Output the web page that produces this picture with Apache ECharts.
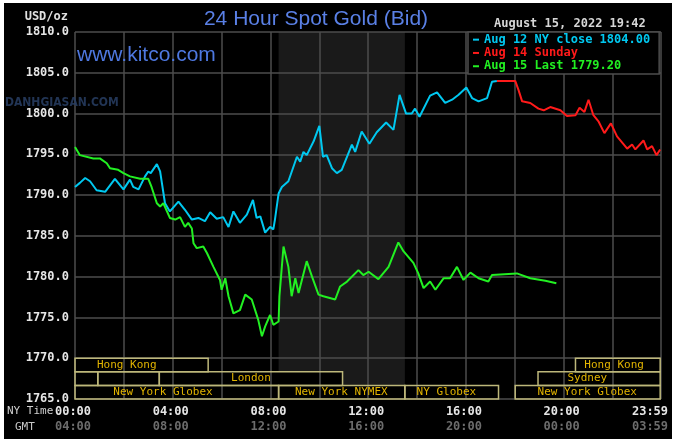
<!DOCTYPE html>
<html><head><meta charset="utf-8">
<script src="https://cdn.jsdelivr.net/npm/echarts@6/dist/echarts.min.js"></script>
<style>
html,body{margin:0;padding:0;background:#fff;width:675px;height:443px;overflow:hidden}
#c{position:absolute;left:4px;top:3px;width:668px;height:436px;background:#000}
</style>
</head><body><div id="c"></div>
<script>
// ---------------- data ----------------
const seriesNames = ['Aug 12 NY close 1804.00', 'Aug 14 Sunday', 'Aug 15 Last 1779.20'];
const seriesColors = ['#00c8f0', '#ff1a1a', '#22f022'];

// minutes since 00:00 NY time
const aug12Minutes = [0,12,25,37,53,74,98,119,135,143,156,172,180,186,201,209,221,233,254,270,287,303,319,332,348,364,377,389,405,422,437,446,455,467,479,487,491,500,508,524,545,553,561,569,586,600,609,618,631,643,655,680,688,704,723,741,764,782,797,813,827,835,846,872,889,909,926,942,961,975,991,1012,1024,1036];
const aug12Values  = [1791.0,1791.5,1792.1,1791.7,1790.6,1790.4,1792.0,1790.7,1791.9,1791.0,1790.7,1792.3,1792.9,1792.7,1793.8,1792.9,1789.0,1788.0,1789.2,1788.2,1787.0,1787.2,1786.8,1787.9,1787.1,1787.3,1786.1,1788.0,1786.6,1787.6,1789.4,1787.2,1787.4,1785.4,1786.1,1785.8,1787.0,1790.2,1791.0,1791.7,1794.7,1794.1,1795.3,1794.9,1796.6,1798.5,1794.7,1794.9,1793.3,1792.7,1793.1,1796.2,1795.3,1797.8,1796.3,1797.7,1798.9,1798.0,1802.3,1800.0,1800.0,1800.6,1799.6,1802.2,1802.6,1801.3,1801.7,1802.3,1803.2,1801.9,1801.5,1801.9,1803.9,1804.0];

const aug14Minutes = [1036,1081,1089,1098,1118,1138,1151,1167,1192,1208,1229,1239,1251,1261,1273,1286,1300,1316,1331,1356,1368,1376,1396,1405,1417,1428,1437];
const aug14Values  = [1804.0,1804.0,1802.9,1801.5,1801.3,1800.6,1800.4,1800.8,1800.4,1799.7,1799.8,1800.7,1800.2,1801.7,1799.8,1799.0,1797.6,1798.8,1797.2,1795.7,1796.2,1795.6,1796.7,1795.6,1796.0,1794.9,1795.6];

const aug15Minutes = [0,12,45,61,78,86,106,119,135,160,180,188,201,209,217,233,246,258,270,278,287,291,299,315,324,340,356,360,369,377,389,405,418,434,450,459,467,479,487,500,502,512,524,532,541,549,569,582,598,610,639,651,668,696,708,721,745,770,794,807,831,843,856,872,885,905,921,938,954,971,991,1015,1024,1085,1118,1155,1182];
const aug15Values  = [1795.9,1794.9,1794.5,1794.5,1793.9,1793.3,1793.1,1792.7,1792.3,1792.0,1792.0,1791.0,1789.0,1788.6,1789.0,1787.2,1787.0,1787.3,1786.1,1786.6,1785.9,1784.1,1783.5,1783.7,1782.9,1781.2,1779.6,1778.4,1779.8,1777.6,1775.5,1775.9,1777.8,1777.2,1774.7,1772.7,1773.9,1775.3,1774.1,1774.5,1777.6,1783.7,1781.2,1777.6,1779.8,1778.0,1781.9,1780.0,1777.8,1777.6,1777.2,1778.8,1779.4,1780.8,1780.2,1780.6,1779.7,1781.2,1784.2,1783.1,1781.7,1780.4,1778.6,1779.4,1778.4,1779.8,1779.8,1781.2,1779.6,1780.5,1779.8,1779.4,1780.2,1780.4,1779.8,1779.5,1779.2];

// axis
const yMin = 1765, yMax = 1810, yStep = 5;
const xMin = 0, xMax = 1439, xStep = 120, xLabelStep = 240, gmtOffsetMin = 240;

// COMEX shaded session (minutes)
const shadeStart = 500, shadeEnd = 810;

// trading session bars (minutes), row 0 = top
const sessionNames = ['Hong Kong', 'Hong Kong', '', '', 'London', 'Sydney', 'New York Globex', 'New York NYMEX', 'NY Globex', 'New York Globex'];
const sessionStart = [0, 1229, 0, 56, 207, 1137, 0, 500, 810, 1081];
const sessionEnd   = [327, 1437, 56, 207, 657, 1437, 500, 810, 1040, 1437];
const sessionRow   = [0, 0, 1, 1, 1, 1, 2, 2, 2, 2];
const sessionLabelAt = [127, 1324, 0, 0, 432, 1258, 216, 654, 912, 1258];

// ---------------- chart ----------------
const MONO = '"DejaVu Sans Mono", "Liberation Mono", monospace';
const pad = n => String(n).padStart(2, '0');
const fmt = m => pad(Math.floor(m / 60)) + ':' + pad(m % 60);
const zip = (a, b) => a.map((v, i) => [v, b[i]]);
const ROW_TOP = 1770, ROW_H = 5 / 3;

const chart = echarts.init(document.getElementById('c'), null, {renderer: 'canvas'});

const sessionData = sessionStart.map((s, i) => [s, sessionEnd[i], sessionRow[i], sessionLabelAt[i]]);

function sessionRect(api) {
  const row = api.value(2);
  const top = ROW_TOP - row * ROW_H, bot = top - ROW_H;
  const p0 = api.coord([api.value(0), top]);
  const p1 = api.coord([api.value(1), bot]);
  return {x: p0[0], y: p0[1], width: p1[0] - p0[0], height: p1[1] - p0[1], mid: (top + bot) / 2};
}

const labA = {fontFamily: MONO, fontWeight: 'bold', fontSize: 12, color: '#e6e6e6', lineHeight: 15};
const labB = {fontFamily: MONO, fontWeight: 'bold', fontSize: 12, color: '#6c6c6c', lineHeight: 15};

const option = {
  backgroundColor: '#000',
  animation: false,
  grid: {left: 71, right: 11, top: 29, bottom: 40, containLabel: false, outerBoundsMode: 'none'},
  xAxis: {
    type: 'value', min: xMin, max: xMax, interval: xStep,
    axisLine: {show: false}, axisTick: {show: false},
    splitLine: {show: true, lineStyle: {color: '#4d4d4d', width: 1.5}},
    axisLabel: {
      showMinLabel: true, showMaxLabel: true, margin: 5,
      formatter: v => {
        if (v === xMax) return '{c|' + fmt(v) + '}\n{d|' + fmt((v + gmtOffsetMin) % 1440) + '}';
        if (v % xLabelStep === 0) return '{a|' + fmt(v) + '}\n{b|' + fmt((v + gmtOffsetMin) % 1440) + '}';
        return '';
      },
      rich: {
        a: Object.assign({padding: [0, 4, 0, 0]}, labA),
        b: Object.assign({padding: [0, 4, 0, 0]}, labB),
        c: Object.assign({padding: [0, 22, 0, 0]}, labA),
        d: Object.assign({padding: [0, 22, 0, 0]}, labB)
      }
    }
  },
  yAxis: {
    type: 'value', min: yMin, max: yMax, interval: yStep,
    axisLine: {show: false}, axisTick: {show: false},
    splitLine: {show: true, lineStyle: {color: '#4d4d4d', width: 1.5}},
    axisLabel: {
      formatter: v => v.toFixed(1), margin: 6,
      fontFamily: MONO, fontWeight: 'bold', fontSize: 12, color: '#e6e6e6'
    }
  },
  legend: {
    left: 464, top: 29, orient: 'vertical', icon: 'rect',
    itemWidth: 6, itemHeight: 2, itemGap: 0, padding: [1, 9, 1, 5],
    backgroundColor: '#000', borderColor: '#4d4d4d', borderWidth: 1.5,
    selectedMode: false,
    textStyle: {fontFamily: MONO, fontWeight: 'bold', fontSize: 12, lineHeight: 13.3},
    data: seriesNames.map((n, i) => ({name: n, textStyle: {color: seriesColors[i]}}))
  },
  graphic: [
    {type: 'text', x: 312, y: 16.5, z: 10, style: {text: '24 Hour Spot Gold (Bid)', font: 'normal 21px "Liberation Sans", Arial, sans-serif', fill: '#5a80e6', align: 'center', verticalAlign: 'middle'}},
    {type: 'text', x: 73, y: 52, z: 10, style: {text: 'www.kitco.com', font: 'normal 21px "Liberation Sans", Arial, sans-serif', fill: '#4e78e0', align: 'left', verticalAlign: 'middle'}},
    {type: 'text', x: 490, y: 21, z: 10, style: {text: 'August 15, 2022 19:42', font: 'bold 12px ' + MONO, fill: '#d6d6d6', align: 'left', verticalAlign: 'middle'}},
    {type: 'text', x: 64, y: 14, z: 10, style: {text: 'USD/oz', font: 'bold 12px ' + MONO, fill: '#e0e0e0', align: 'right', verticalAlign: 'middle'}},
    {type: 'text', x: 3, y: 408.5, z: 10, style: {text: 'NY Time', font: 'normal 11px ' + MONO, fill: '#d0d0d0', align: 'left', verticalAlign: 'middle'}},
    {type: 'text', x: 11, y: 424, z: 10, style: {text: 'GMT', font: 'normal 11px ' + MONO, fill: '#c8c8c8', align: 'left', verticalAlign: 'middle'}},
    {type: 'text', x: 1, y: 100, z: 10, style: {text: 'DANHGIASAN.COM', font: 'bold 12px "DejaVu Sans Condensed", "DejaVu Sans", sans-serif', fill: 'rgba(40,62,100,0.85)', align: 'left', verticalAlign: 'middle'}}
  ],
  series: [
    {
      type: 'custom', z: -2, silent: true, data: [[shadeStart, shadeEnd]],
      renderItem: (p, api) => {
        const a = api.coord([api.value(0), yMax]);
        const b = api.coord([api.value(1), yMin]);
        return {type: 'rect', shape: {x: a[0], y: a[1], width: b[0] - a[0], height: b[1] - a[1]}, style: {fill: '#1a1a1a'}};
      }
    },
    {
      type: 'custom', z: -1, silent: true, data: sessionData,
      renderItem: (p, api) => {
        const r = sessionRect(api);
        return {type: 'rect', shape: {x: r.x, y: r.y, width: r.width, height: r.height}, style: {fill: '#000'}};
      }
    },
    {
      type: 'custom', z: 1, silent: true, data: sessionData,
      renderItem: (p, api) => {
        const r = sessionRect(api);
        const children = [{type: 'rect', shape: {x: r.x, y: r.y, width: r.width, height: r.height}, style: {fill: 'none', stroke: '#bdb77a', lineWidth: 1.5}}];
        const name = sessionNames[p.dataIndex];
        if (name) {
          const c = api.coord([api.value(3), r.mid]);
          children.push({type: 'text', style: {text: name, x: c[0], y: c[1], align: 'center', verticalAlign: 'middle', textAlign: 'center', textVerticalAlign: 'middle', font: 'normal 11px ' + MONO, fill: '#e2b400'}});
        }
        return {type: 'group', children};
      }
    },
    {name: seriesNames[0], type: 'line', z: 3, data: zip(aug12Minutes, aug12Values), showSymbol: false, symbol: 'none', color: seriesColors[0], lineStyle: {width: 2, color: seriesColors[0]}},
    {name: seriesNames[1], type: 'line', z: 3, data: zip(aug14Minutes, aug14Values), showSymbol: false, symbol: 'none', color: seriesColors[1], lineStyle: {width: 2, color: seriesColors[1]}},
    {name: seriesNames[2], type: 'line', z: 3, data: zip(aug15Minutes, aug15Values), showSymbol: false, symbol: 'none', color: seriesColors[2], lineStyle: {width: 2, color: seriesColors[2]}}
  ]
};
chart.setOption(option);
</script></body></html>
